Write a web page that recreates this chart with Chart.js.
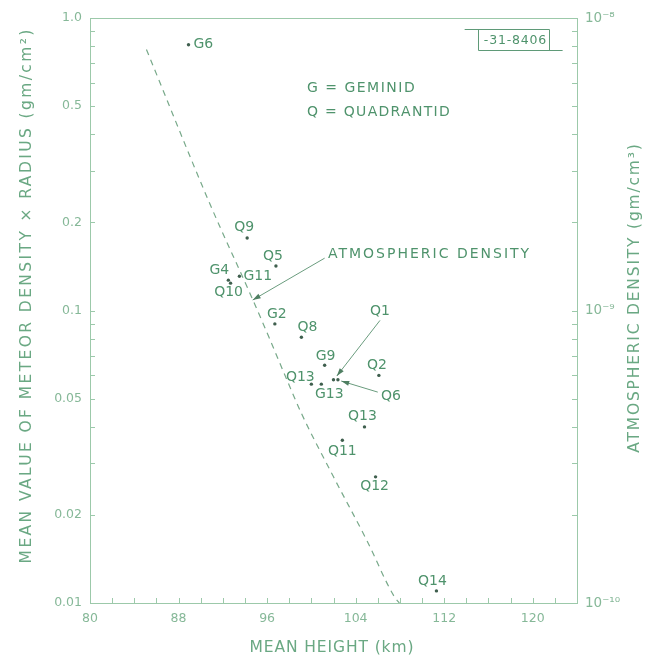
<!DOCTYPE html>
<html>
<head>
<meta charset="utf-8">
<script src="https://cdn.jsdelivr.net/npm/chart.js@4.4.0/dist/chart.umd.min.js"></script>
<style>
  html, body { margin: 0; background: #fff; }
  #zone { width: 645px; height: 661px; }
</style>
</head>
<body>
<div id="zone"><canvas id="graphique"></canvas></div>
<script>
// Données
const nomsEssaims = ['G6', 'Q9', 'Q5', 'G4', 'Q10', 'G11', 'G2', 'Q8', 'G9', 'Q13', 'G13', 'Q1', 'Q6', 'Q2', 'Q13', 'Q11', 'Q12', 'Q14'];
const hauteurs = [88.9, 94.2, 96.8, 92.5, 92.7, 93.5, 96.7, 99.1, 101.2, 100.0, 100.9, 102.0, 102.4, 106.1, 104.8, 102.8, 105.8, 111.3];
const valeurs = [0.81, 0.177, 0.142, 0.127, 0.124, 0.131, 0.090, 0.081, 0.065, 0.056, 0.056, 0.058, 0.058, 0.060, 0.040, 0.036, 0.027, 0.011];

// Densité atmosphérique (gm/cm3), courbe en tirets
const hauteursAtm = [85.1, 90.8, 94.7, 96.2, 97.7, 99.1, 102.0, 105.0, 107.5, 107.95];
const densiteAtm = [7.8e-9, 2.33e-9, 1.09e-9, 8.05e-10, 5.9e-10, 4.45e-10, 2.7e-10, 1.64e-10, 1.05e-10, 1.0e-10];

// Graduations
const xLabelsValeurs = [80, 88, 96, 104, 112, 120];
const yLabelsValeurs = [0.01, 0.02, 0.05, 0.1, 0.2, 0.5, 1.0];
const yLabelsTextes = ['0.01', '0.02', '0.05', '0.1', '0.2', '0.5', '1.0'];
const y2LabelsValeurs = [1e-10, 1e-9, 1e-8];
const y2LabelsTextes = ['10\u207B\u00B9\u2070', '10\u207B\u2079', '10\u207B\u2078'];

const titreX = 'MEAN HEIGHT (km)';
const titreY = 'MEAN VALUE OF METEOR DENSITY \u00D7 RADIUS (gm/cm\u00B2)';
const titreY2 = 'ATMOSPHERIC DENSITY (gm/cm\u00B3)';

// Décalage des étiquettes par rapport aux points (px) : [dx, dy, alignement]
const decalages = [
    [5, 0, 'left'], [-3, -11], [-3, -10], [-9, -10], [-2, 9], [4, 0, 'left'],
    [2, -10], [6, -10], [1, -9], [-11, -7], [8, 10], null, null,
    [-2, -10], [-2, -11], [0, 11], [-1, 10], [-4, -10]
];

// Étiquettes avec flèche (coordonnées en données)
const renvois = [
    { texte: 'ATMOSPHERIC DENSITY', pos: [101.5, 0.156], de: [101.2, 0.151], vers: [94.7, 0.1086], align: 'left', espace: 2 },
    { texte: 'Q1', pos: [106.2, 0.0996], de: [106.2, 0.0925], vers: [102.3, 0.0597], align: 'center', espace: 0 },
    { texte: 'Q6', pos: [107.2, 0.051], de: [106.0, 0.0526], vers: [102.7, 0.0574], align: 'center', espace: 0 }
];

const couleurAxe = '#9cc9aa';
const couleurTicks = '#86b898';
const couleurTexte = '#4f936c';
const couleurTitre = '#6aa883';
const couleurPoint = '#3f5f4e';
const police = '"DejaVu Sans", sans-serif';

function graduationsLog(min, max) {
    const liste = [];
    for (let d = min; d < max * 0.999; d *= 10) {
        for (let m = 1; m <= 9; m++) liste.push({ value: m * d });
    }
    liste.push({ value: max });
    return liste;
}

function libelle(v, valeursRef, textes) {
    const i = valeursRef.findIndex(r => Math.abs(v / r - 1) < 1e-6);
    return i >= 0 ? textes[i] : '';
}

function texte(ctx, str, x, y, taille, espace, align, couleur, angle) {
    ctx.save();
    ctx.translate(x, y);
    if (angle) ctx.rotate(angle);
    ctx.font = taille + 'px ' + police;
    ctx.letterSpacing = espace + 'px';
    ctx.fillStyle = couleur;
    ctx.textAlign = align;
    ctx.textBaseline = 'middle';
    ctx.fillText(str, align === 'center' ? espace / 2 : 0, 0);
    ctx.restore();
}

function fleche(ctx, x1, y1, x2, y2) {
    const a = Math.atan2(y2 - y1, x2 - x1);
    ctx.beginPath();
    ctx.moveTo(x1, y1);
    ctx.lineTo(x2, y2);
    ctx.stroke();
    ctx.beginPath();
    ctx.moveTo(x2, y2);
    ctx.lineTo(x2 - 8 * Math.cos(a) + 2.5 * Math.sin(a), y2 - 8 * Math.sin(a) - 2.5 * Math.cos(a));
    ctx.lineTo(x2 - 8 * Math.cos(a) - 2.5 * Math.sin(a), y2 - 8 * Math.sin(a) + 2.5 * Math.cos(a));
    ctx.closePath();
    ctx.fill();
}

const habillage = {
    id: 'habillage',
    beforeDatasetsDraw(chart) {
        const { ctx, chartArea: a, scales } = chart;
        ctx.save();
        ctx.strokeStyle = couleurAxe;
        ctx.lineWidth = 1;
        ctx.beginPath();
        ctx.moveTo(a.left, a.top + 0.5);
        ctx.lineTo(a.right, a.top + 0.5);
        scales.x.ticks.forEach(t => {
            const px = Math.round(scales.x.getPixelForValue(t.value)) + 0.5;
            ctx.moveTo(px, a.bottom);
            ctx.lineTo(px, a.bottom - 5);
        });
        scales.y.ticks.forEach(t => {
            const py = Math.round(scales.y.getPixelForValue(t.value)) + 0.5;
            ctx.moveTo(a.left, py);
            ctx.lineTo(a.left + 5, py);
        });
        scales.y2.ticks.forEach(t => {
            const py = Math.round(scales.y2.getPixelForValue(t.value)) + 0.5;
            ctx.moveTo(a.right, py);
            ctx.lineTo(a.right - 5, py);
        });
        ctx.stroke();
        ctx.restore();
    },
    afterDatasetsDraw(chart) {
        const { ctx, scales } = chart;
        const X = v => scales.x.getPixelForValue(v);
        const Y = v => scales.y.getPixelForValue(v);

        // étiquettes des points
        nomsEssaims.forEach((nom, i) => {
            const d = decalages[i];
            if (!d) return;
            texte(ctx, nom, X(hauteurs[i]) + d[0], Y(valeurs[i]) + d[1], 14, 0, d[2] || 'center', couleurTexte);
        });

        // renvois avec flèches
        ctx.save();
        ctx.strokeStyle = '#6a9c7e';
        ctx.fillStyle = '#4f7f62';
        ctx.lineWidth = 1;
        renvois.forEach(r => {
            texte(ctx, r.texte, X(r.pos[0]), Y(r.pos[1]), 14, r.espace, r.align, couleurTexte);
            fleche(ctx, X(r.de[0]), Y(r.de[1]), X(r.vers[0]), Y(r.vers[1]));
        });
        ctx.restore();

        // légende
        texte(ctx, 'G = GEMINID', X(99.6), Y(0.576), 14, 1.5, 'left', couleurTexte);
        texte(ctx, 'Q = QUADRANTID', X(99.6), Y(0.477), 14, 1.3, 'left', couleurTexte);

        // cartouche
        ctx.save();
        ctx.strokeStyle = '#5f9a78';
        ctx.lineWidth = 1;
        const yh = Math.round(Y(0.917)) + 0.5, yb = Math.round(Y(0.777)) + 0.5;
        const xg = Math.round(X(115.1)) + 0.5, xd = Math.round(X(121.5)) + 0.5;
        ctx.beginPath();
        ctx.moveTo(X(113.85), yh); ctx.lineTo(xd, yh);
        ctx.moveTo(xg, yh); ctx.lineTo(xg, yb);
        ctx.moveTo(xd, yh); ctx.lineTo(xd, yb);
        ctx.moveTo(xg, yb); ctx.lineTo(X(122.7), yb);
        ctx.stroke();
        ctx.restore();
        texte(ctx, '-31-8406', (xg + xd) / 2 + 1, (yh + yb) / 2 + 1, 12.5, 0.8, 'center', couleurTexte);
    },
    afterDraw(chart) {
        const { ctx, chartArea: a } = chart;
        texte(ctx, titreX, (a.left + a.right) / 2 - 2, 648, 15.5, 0.9, 'center', couleurTitre);
        texte(ctx, titreY, 27, (a.top + a.bottom) / 2 - 14, 15.5, 2.4, 'center', couleurTitre, -Math.PI / 2);
        texte(ctx, titreY2, 635, (a.top + a.bottom) / 2 - 12, 15.5, 1.8, 'center', couleurTitre, -Math.PI / 2);
    }
};

const ctx = document.getElementById('graphique').getContext('2d');
new Chart(ctx, {
    type: 'scatter',
    data: {
        datasets: [
            {
                label: 'Essaims',
                data: hauteurs.map((h, i) => ({ x: h, y: valeurs[i] })),
                yAxisID: 'y',
                pointRadius: 1.7,
                pointBackgroundColor: couleurPoint,
                pointBorderWidth: 0,
                showLine: false
            },
            {
                label: 'Densité atmosphérique',
                data: hauteursAtm.map((h, i) => ({ x: h, y: densiteAtm[i] })),
                yAxisID: 'y2',
                showLine: true,
                borderColor: '#78a98a',
                borderWidth: 1.2,
                borderDash: [6, 5],
                cubicInterpolationMode: 'monotone',
                pointRadius: 0
            }
        ]
    },
    options: {
        responsive: true,
        maintainAspectRatio: false,
        animation: false,
        layout: { padding: { top: 18, left: 0, right: 0, bottom: 0 } },
        plugins: {
            legend: { display: false },
            tooltip: { enabled: false },
            title: { display: false }
        },
        scales: {
            x: {
                type: 'linear',
                position: 'bottom',
                min: 80,
                max: 124,
                grid: { display: false, drawTicks: false },
                border: { display: true, color: couleurAxe, width: 1 },
                title: { display: false, text: titreX },
                afterBuildTicks: s => {
                    const liste = [];
                    for (let v = 80; v <= 124; v += 2) liste.push({ value: v });
                    s.ticks = liste;
                },
                afterFit: s => { s.height = 58; },
                ticks: {
                    autoSkip: false,
                    maxRotation: 0,
                    padding: 8,
                    color: couleurTicks,
                    font: { family: police, size: 12.5 },
                    callback: v => xLabelsValeurs.includes(v) ? String(v) : ''
                }
            },
            y: {
                type: 'logarithmic',
                position: 'left',
                min: 0.01,
                max: 1,
                grid: { display: false, drawTicks: false },
                border: { display: true, color: couleurAxe, width: 1 },
                title: { display: false, text: titreY },
                afterBuildTicks: s => { s.ticks = graduationsLog(0.01, 1); },
                afterFit: s => { s.width = 90; },
                ticks: {
                    autoSkip: false,
                    padding: 8,
                    color: couleurTicks,
                    font: { family: police, size: 12.5 },
                    callback: v => libelle(v, yLabelsValeurs, yLabelsTextes)
                }
            },
            y2: {
                type: 'logarithmic',
                position: 'right',
                min: 1e-10,
                max: 1e-8,
                grid: { display: false, drawTicks: false },
                border: { display: true, color: couleurAxe, width: 1 },
                title: { display: false, text: titreY2 },
                afterBuildTicks: s => { s.ticks = graduationsLog(1e-10, 1e-8); },
                afterFit: s => { s.width = 68; },
                ticks: {
                    autoSkip: false,
                    padding: 8,
                    color: couleurTicks,
                    font: { family: police, size: 13.5 },
                    callback: v => libelle(v, y2LabelsValeurs, y2LabelsTextes)
                }
            }
        }
    },
    plugins: [habillage]
});
</script>
</body>
</html>
